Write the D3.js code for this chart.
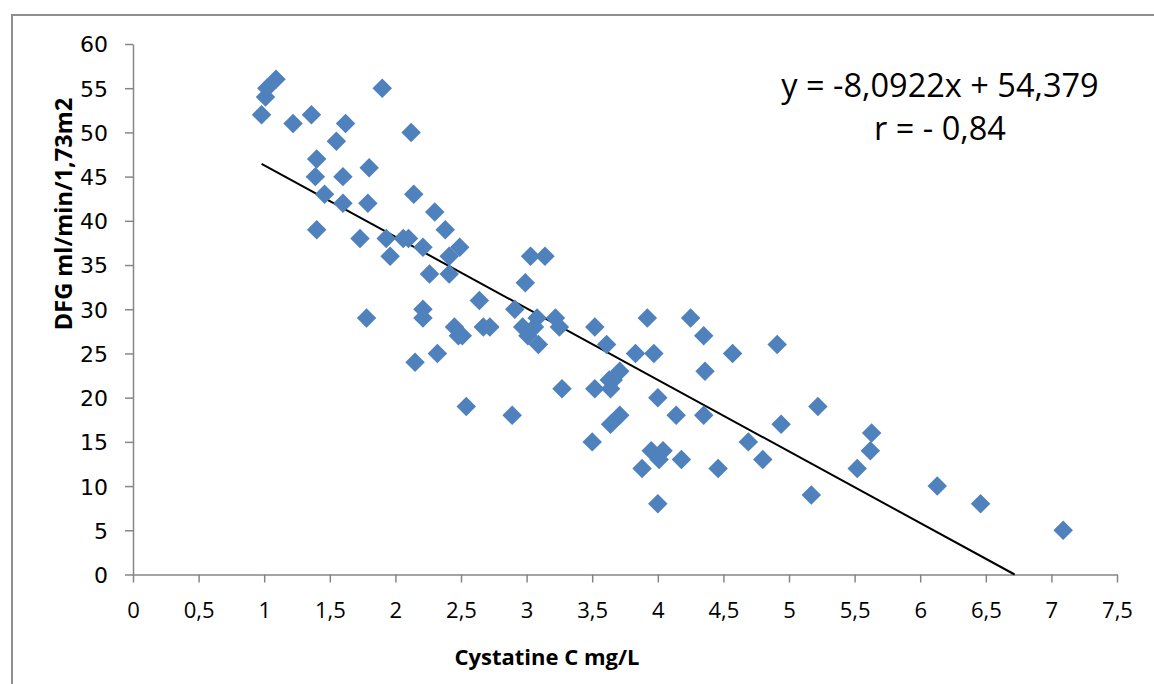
<!DOCTYPE html>
<html>
<head>
<meta charset="utf-8">
<script src="https://cdn.jsdelivr.net/npm/d3@7"></script>
<style>
  body { margin: 0; background: #fff; }
</style>
</head>
<body>
<div class="scatter"></div>
<script>
// Cystatine C (mg/L) and DFG values
const cystatine = [0.98, 1.01, 1.02, 1.09, 1.22, 1.36, 1.62, 1.55, 1.90, 2.12,
  1.40, 1.39, 1.46, 1.60, 1.60, 1.80, 1.79, 2.14, 2.30, 2.38,
  1.40, 1.73, 1.93, 2.06, 2.10, 2.21, 2.49, 2.41, 1.96,
  1.78, 2.21, 2.21, 2.26, 2.41, 2.45, 2.48, 2.51, 2.32, 2.15, 2.54,
  3.03, 3.14, 2.99, 2.64, 2.91, 3.08, 3.22, 2.97, 3.06, 3.25, 3.01, 3.09, 2.67, 2.72,
  3.52, 3.61, 3.92, 3.83, 3.97, 3.71, 3.66, 3.63, 3.64, 3.52, 3.27, 4.25, 4.00, 2.89, 3.71, 3.64, 4.14,
  4.35, 4.57, 4.91, 4.36, 4.35, 5.22, 4.94, 4.69, 4.80,
  3.95, 4.04, 4.01, 4.18, 3.88, 4.46, 4.00, 5.17, 5.63, 5.62, 5.52,
  6.13, 6.46, 7.09, 3.50];
const dfg = [52, 54, 55, 56, 51, 52, 51, 49, 55, 50,
  47, 45, 43, 45, 42, 46, 42, 43, 41, 39,
  39, 38, 38, 38, 38, 37, 37, 36, 36,
  29, 30, 29, 34, 34, 28, 27, 27, 25, 24, 19,
  36, 36, 33, 31, 30, 29, 29, 28, 28, 28, 27, 26, 28, 28,
  28, 26, 29, 25, 25, 23, 22, 22, 21, 21, 21, 29, 20, 18, 18, 17, 18,
  27, 25, 26, 23, 18, 19, 17, 15, 13,
  14, 14, 13, 13, 12, 12, 8, 9, 16, 14, 12,
  10, 8, 5, 15];

const xTicks = [0, 0.5, 1, 1.5, 2, 2.5, 3, 3.5, 4, 4.5, 5, 5.5, 6, 6.5, 7, 7.5];
const yTicks = [0, 5, 10, 15, 20, 25, 30, 35, 40, 45, 50, 55, 60];

// linear trend shown on the chart
const trendSlope = -8.0922;
const trendIntercept = 54.379;
const equationLines = ["y = -8,0922x + 54,379", "r = - 0,84"];

const width = 1154;
const height = 684;

const svg = d3.select(".scatter")
  .append("svg")
  .attr("width", width)
  .attr("height", height);

// outer chart border (runs off the right and bottom)
svg.append("rect")
  .attr("x", 12)
  .attr("y", 15)
  .attr("width", 1160)
  .attr("height", 700)
  .attr("fill", "#fff")
  .attr("stroke", "#8e8e8e")
  .attr("stroke-width", 2);

const xScale = d3.scaleLinear().domain([0, 7.5]).range([133, 1117]);
const yScale = d3.scaleLinear().domain([0, 60]).range([574.5, 44]);

const comma = (d) => String(d).replace(".", ",");

// x axis
const xAxis = svg.append("g")
  .attr("transform", `translate(0, ${yScale(0)})`)
  .call(d3.axisBottom(xScale).tickValues(xTicks).tickSize(8).tickSizeOuter(0).tickFormat(comma));

xAxis.selectAll("text")
  .attr("y", 43)
  .attr("dy", 0)
  .attr("fill", "#000")
  .style("font-family", "'Open Sans', sans-serif")
  .style("font-size", "22px");

// y axis
const yAxis = svg.append("g")
  .attr("transform", `translate(${xScale(0)}, 0)`)
  .call(d3.axisLeft(yScale).tickValues(yTicks).tickSize(8).tickSizeOuter(0).tickPadding(17));

yAxis.selectAll("text")
  .attr("dy", "0.36em")
  .attr("fill", "#000")
  .style("font-family", "'DejaVu Sans', sans-serif")
  .style("font-size", "22px");

svg.selectAll(".domain, .tick line")
  .attr("stroke", "#868686")
  .attr("stroke-width", 1.5);

// axis titles
svg.append("text")
  .attr("x", 547)
  .attr("y", 665)
  .attr("text-anchor", "middle")
  .style("font-family", "'Open Sans', sans-serif")
  .style("font-weight", "bold")
  .style("font-size", "22px")
  .text("Cystatine C mg/L");

svg.append("text")
  .attr("transform", "translate(72, 214) rotate(-90)")
  .attr("text-anchor", "middle")
  .style("font-family", "'Open Sans', sans-serif")
  .style("font-weight", "bold")
  .style("font-size", "23.5px")
  .text("DFG ml/min/1,73m2");

// trend line from smallest x down to the x axis
const trendStart = d3.min(cystatine);
const trendEnd = -trendIntercept / trendSlope;
svg.append("line")
  .attr("x1", xScale(trendStart))
  .attr("y1", yScale(trendSlope * trendStart + trendIntercept))
  .attr("x2", xScale(trendEnd))
  .attr("y2", yScale(0))
  .attr("stroke", "#000")
  .attr("stroke-width", 2);

// diamond markers
const diamond = d3.symbol().type(d3.symbolSquare).size(190);
svg.append("g")
  .selectAll("path")
  .data(cystatine)
  .enter()
  .append("path")
  .attr("d", diamond)
  .attr("transform", (d, i) => `translate(${xScale(d)}, ${yScale(dfg[i])}) rotate(45)`)
  .attr("fill", "#4f81bd");

// equation label
svg.append("text")
  .attr("text-anchor", "middle")
  .style("font-family", "'Open Sans', sans-serif")
  .style("font-size", "32.5px")
  .selectAll("tspan")
  .data(equationLines)
  .enter()
  .append("tspan")
  .attr("x", 940)
  .attr("y", (d, i) => 97 + i * 43)
  .text((d) => d);
</script>
</body>
</html>
